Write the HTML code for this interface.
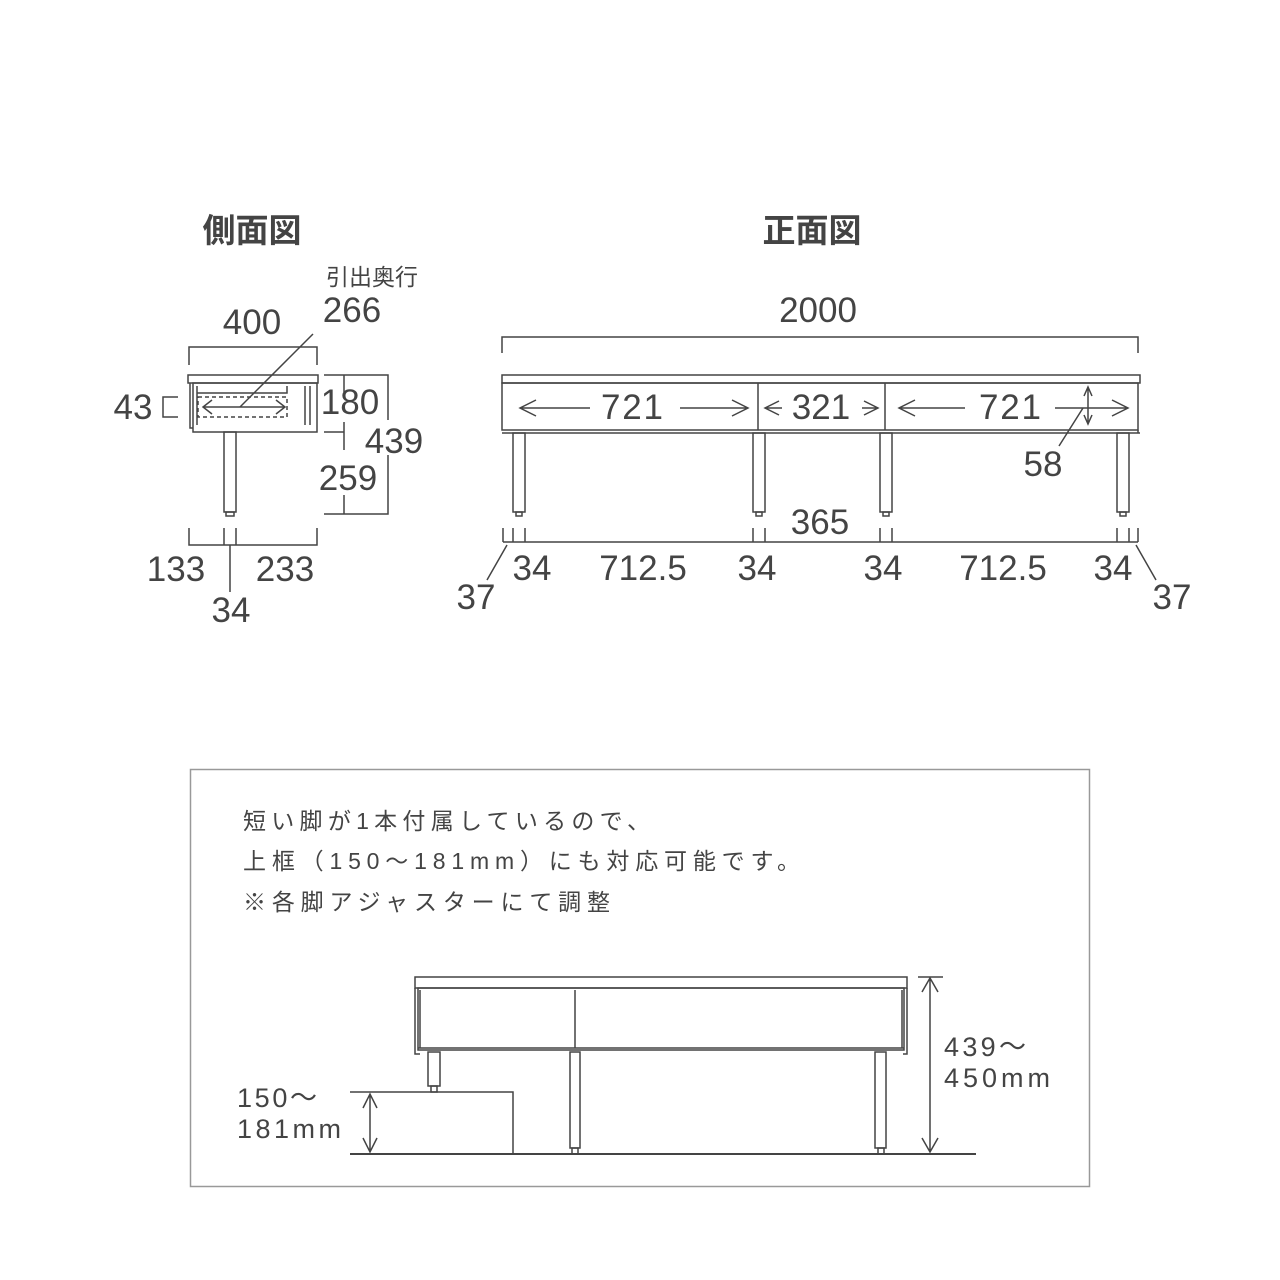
<!DOCTYPE html>
<html><head><meta charset="utf-8"><style>
html,body{margin:0;padding:0;background:#fff;}
svg{display:block;}
text{font-family:"Liberation Sans","Noto Sans CJK JP",sans-serif;fill:#444;}
</style></head><body>
<svg width="1280" height="1280" viewBox="0 0 1280 1280" xmlns="http://www.w3.org/2000/svg">
<g stroke="#444" stroke-width="1.5" fill="none">
<!-- SIDE VIEW -->
<path d="M189 365V347H317V365"/>
<rect x="188" y="375" width="130" height="8"/>
<rect x="193" y="383" width="124" height="49"/>
<path d="M190 383V428H193"/>
<path d="M197 386V425M197 393H287V386M305 386V425M310 386V425"/>
<rect x="198" y="397" width="89" height="20" stroke-dasharray="4,3"/>
<path d="M203 407H285M212 400L203 407L212 414M276 400L285 407L276 414"/>
<path d="M240 407L313 334"/>
<path d="M178 397H163V417H178"/>
<rect x="224" y="432" width="12" height="80"/>
<rect x="226" y="512" width="8" height="4"/>
<path d="M324 375H388V420M388 455V514H324M324 432H344M344 375V392M344 422V450M344 495V514"/>
<path d="M189 528V545H317V528M224 528V545M236 528V545M230 545V592"/>
<!-- FRONT VIEW -->
<path d="M502 353V337H1138V353"/>
<rect x="502" y="375" width="638" height="8"/>
<rect x="502" y="383" width="636" height="47"/>
<path d="M758 383V430M885 383V430M502 433H1140M1138 430V433"/>
<rect x="513" y="433" width="12" height="79"/><rect x="516" y="512" width="6" height="4"/>
<rect x="753" y="433" width="12" height="79"/><rect x="756" y="512" width="6" height="4"/>
<rect x="880" y="433" width="12" height="79"/><rect x="883" y="512" width="6" height="4"/>
<rect x="1117" y="433" width="12" height="79"/><rect x="1120" y="512" width="6" height="4"/>
<path d="M503 542H1138M503 528V542M513 528V542M525 528V542M753 528V542M765 528V542M880 528V542M892 528V542M1117 528V542M1129 528V542M1138 528V542"/>
<path d="M507 545L487 580M1136 545L1156 580"/>
<path d="M520 408H590M536 400L520 408L536 416M680 408H748M732 400L748 408L732 416"/>
<path d="M765 408H782M779 401L765 408L779 415M862 408H878M864 401L878 408L864 415"/>
<path d="M899 408H965M915 400L899 408L915 416M1055 408H1128M1112 400L1128 408L1112 416"/>
<path d="M1088 387V424M1084 396L1088 387L1092 396M1084 415L1088 424L1092 415M1083 408L1059 446"/>
</g>
<text x="252" y="242" font-size="33" font-weight="bold" text-anchor="middle">側面図</text>
<text x="812" y="242" font-size="33" font-weight="bold" text-anchor="middle">正面図</text>
<text x="372" y="285" font-size="23" text-anchor="middle">引出奥行</text>
<g font-size="35" text-anchor="middle">
<text x="252" y="334">400</text>
<text x="352" y="322">266</text>
<text x="133" y="419">43</text>
<text x="350" y="414">180</text>
<text x="394" y="453">439</text>
<text x="348" y="490">259</text>
<text x="176" y="581">133</text>
<text x="285" y="581">233</text>
<text x="231" y="622">34</text>
<text x="818" y="322">2000</text>
<text x="632" y="419" textLength="62">721</text>
<text x="821" y="419">321</text>
<text x="1010" y="419" textLength="62">721</text>
<text x="1043" y="476">58</text>
<text x="820" y="534">365</text>
<text x="532" y="580">34</text>
<text x="643" y="580">712.5</text>
<text x="757" y="580">34</text>
<text x="883" y="580">34</text>
<text x="1003" y="580">712.5</text>
<text x="1113" y="580">34</text>
<text x="476" y="609">37</text>
<text x="1172" y="609">37</text>
</g>
<rect x="190.5" y="769.5" width="899" height="417" fill="none" stroke="#999" stroke-width="1.5"/>
<g font-size="23">
<text x="243" y="829" textLength="407">短い脚が1本付属しているので、</text>
<text x="243" y="869" textLength="557">上框（150～181mm）にも対応可能です。</text>
<text x="243" y="910" textLength="367">※各脚アジャスターにて調整</text>
</g>
<g stroke="#444" stroke-width="1.5" fill="none">
<rect x="415" y="977" width="492" height="11"/>
<rect x="418" y="988" width="486" height="62"/>
<path d="M575 990V1048M420 990V1048M902 990V1048M415 988V1054H420M907 988V1054H903M418 1048H904"/>
<rect x="428" y="1052" width="12" height="34"/><rect x="431" y="1086" width="6" height="6"/>
<rect x="570" y="1052" width="10" height="96"/><rect x="572" y="1148" width="6" height="6"/>
<rect x="875" y="1052" width="11" height="96"/><rect x="878" y="1148" width="6" height="6"/>
<path d="M350 1092H513V1154"/>
<path d="M350 1154H976" stroke-width="2"/>
<path d="M370 1094V1152M363 1108L370 1094L377 1108M363 1138L370 1152L377 1138"/>
<path d="M918 977H943M930 978V1152M922 992L930 978L938 992M922 1138L930 1152L938 1138"/>
</g>
<g font-size="27">
<text x="237" y="1107" textLength="80">150～</text>
<text x="237" y="1138" textLength="104">181mm</text>
<text x="944" y="1056" textLength="82">439～</text>
<text x="944" y="1087" textLength="106">450mm</text>
</g>
</svg>
</body></html>
